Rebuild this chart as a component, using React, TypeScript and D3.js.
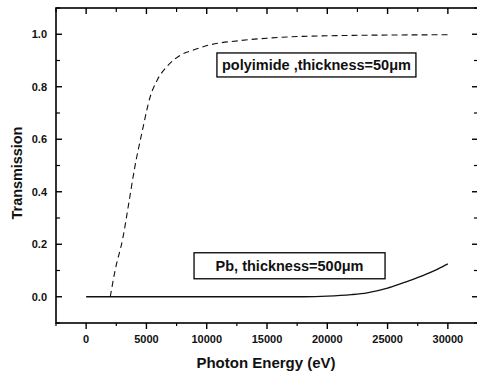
import * as d3 from 'd3';

// polyimide, 50 um (dashed)
const polyEnergy = [2000, 2400, 3050, 3550, 4000, 4650, 5300, 5900, 6700, 7800, 8900, 10300, 12600, 15000, 18000, 21000, 25000, 30000];
const polyTrans = [0, 0.1, 0.225, 0.36, 0.485, 0.63, 0.76, 0.826, 0.877, 0.92, 0.94, 0.96, 0.975, 0.985, 0.992, 0.995, 0.997, 0.998];

// Pb, 500 um (solid)
const pbEnergy = [0, 5000, 10000, 15000, 18000, 20000, 22000, 23300, 25000, 26000, 27000, 28300, 29200, 30000];
const pbTrans = [0, 0, 0, 0, 0, 0.002, 0.008, 0.015, 0.033, 0.048, 0.064, 0.088, 0.106, 0.125];

const xTicks = [0, 5000, 10000, 15000, 20000, 25000, 30000];
const yTicks = [0.0, 0.2, 0.4, 0.6, 0.8, 1.0];

const labels = [
  { text: 'polyimide ,thickness=50\u03bcm', x: 19100, y: 0.883, w: 199, h: 24 },
  { text: 'Pb, thickness=500\u03bcm', x: 16870, y: 0.118, w: 191, h: 26 },
];

const W = 477;
const H = 373;
const margin = { top: 8, right: -1, bottom: 50, left: 56 };
const FONT = '"Liberation Sans", Arial, sans-serif';

export default function App() {
  const x = d3.scaleLinear().domain([-2500, 32500]).range([margin.left, W - margin.right]);
  const y = d3.scaleLinear().domain([-0.1, 1.1]).range([H - margin.bottom, margin.top]);
  const [x0, x1] = x.range();
  const [y0, y1] = y.range(); // y0 bottom, y1 top

  const line = d3.line<[number, number]>()
    .x(d => x(d[0]))
    .y(d => y(d[1]))
    .curve(d3.curveMonotoneX);

  const polyPts = polyEnergy.map((e, i) => [e, polyTrans[i]] as [number, number]);
  const pbPts = pbEnergy.map((e, i) => [e, pbTrans[i]] as [number, number]);

  const xMinor = d3.range(-2500, 32501, 2500).filter(v => !xTicks.includes(v));
  const yMinor = d3.range(-1, 12).map(v => v / 10).filter(v => !yTicks.some(t => Math.abs(t - v) < 1e-6));

  return (
    <svg width={W} height={H} style={{ position: 'absolute', left: 0, top: 0, background: '#fff' }}>
      <rect x={0} y={0} width={W} height={H} fill="#fff" />

      {/* curves */}
      <path d={line(polyPts) ?? ''} fill="none" stroke="#111" strokeWidth={1.1} strokeDasharray="6,4" />
      <path d={line(pbPts) ?? ''} fill="none" stroke="#111" strokeWidth={1.3} />

      {/* frame */}
      <rect x={x0} y={y1} width={x1 - x0} height={y0 - y1} fill="none" stroke="#000" strokeWidth={1.6} />

      {/* bottom ticks (outward) and top ticks (inward) */}
      {xTicks.map(t => (
        <g key={'xt' + t}>
          <line x1={x(t)} x2={x(t)} y1={y0} y2={y0 + 6} stroke="#000" strokeWidth={1.4} />
          <line x1={x(t)} x2={x(t)} y1={y1} y2={y1 + 6} stroke="#000" strokeWidth={1.4} />
          <text x={x(t)} y={y0 + 20} textAnchor="middle" fontFamily={FONT} fontWeight="bold" fontSize={11} fill="#111">
            {t}
          </text>
        </g>
      ))}
      {xMinor.map(t => (
        <g key={'xm' + t}>
          <line x1={x(t)} x2={x(t)} y1={y0} y2={y0 + 3} stroke="#000" strokeWidth={1.2} />
          <line x1={x(t)} x2={x(t)} y1={y1} y2={y1 + 4} stroke="#000" strokeWidth={1.2} />
        </g>
      ))}

      {/* left ticks and right ticks (inward) */}
      {yTicks.map(t => (
        <g key={'yt' + t}>
          <line x1={x0} x2={x0 + 6} y1={y(t)} y2={y(t)} stroke="#000" strokeWidth={1.4} />
          <line x1={x1} x2={x1 - 6} y1={y(t)} y2={y(t)} stroke="#000" strokeWidth={1.4} />
          <text x={x0 - 9} y={y(t)} dy="0.35em" textAnchor="end" fontFamily={FONT} fontWeight="bold" fontSize={11} fill="#111">
            {d3.format('.1f')(t)}
          </text>
        </g>
      ))}
      {yMinor.map(t => (
        <g key={'ym' + t}>
          <line x1={x0} x2={x0 + 4} y1={y(t)} y2={y(t)} stroke="#000" strokeWidth={1.2} />
          <line x1={x1} x2={x1 - 4} y1={y(t)} y2={y(t)} stroke="#000" strokeWidth={1.2} />
        </g>
      ))}

      {/* label boxes */}
      {labels.map(l => (
        <g key={l.text}>
          <rect x={x(l.x) - l.w / 2} y={y(l.y) - l.h / 2} width={l.w} height={l.h} fill="#fff" stroke="#000" strokeWidth={1.3} />
          <text x={x(l.x)} y={y(l.y)} dy="0.35em" textAnchor="middle" fontFamily={FONT} fontWeight="bold" fontSize={14.5} fill="#111">
            {l.text}
          </text>
        </g>
      ))}

      {/* axis titles */}
      <text x={(x(-2500) + x(32500)) / 2 - 1} y={368} textAnchor="middle" fontFamily={FONT} fontWeight="bold" fontSize={15} fill="#111">
        Photon Energy (eV)
      </text>
      <text transform={`translate(22,${173}) rotate(-90)`} textAnchor="middle" fontFamily={FONT} fontWeight="bold" fontSize={14.4} fill="#111">
        Transmission
      </text>
    </svg>
  );
}
